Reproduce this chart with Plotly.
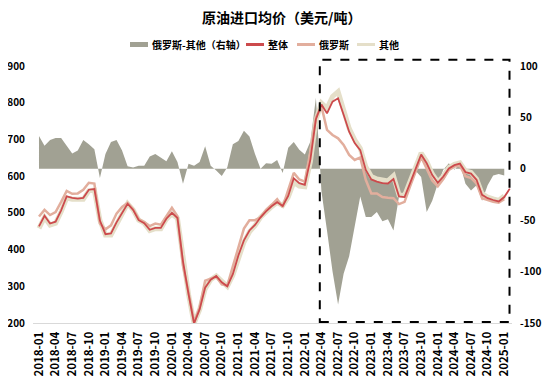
import plotly.graph_objects as go

# ---------------- data ----------------
START_YEAR, START_MONTH, N_MONTHS = 2018, 1, 86
months = []
y, m = START_YEAR, START_MONTH
for _ in range(N_MONTHS):
    months.append(f"{y}-{m:02d}")
    m += 1
    if m > 12:
        m = 1
        y += 1

tick_labels = ["2018-01", "2018-04", "2018-07", "2018-10", "2019-01", "2019-04", "2019-07", "2019-10",
               "2020-01", "2020-04", "2020-07", "2020-10", "2021-01", "2021-04", "2021-07", "2021-10",
               "2022-01", "2022-04", "2022-07", "2022-10", "2023-01", "2023-04", "2023-07", "2023-10",
               "2024-01", "2024-04", "2024-07", "2024-10", "2025-01"]

# 俄罗斯-其他（右轴）
diff = [32, 22.5, 28, 30, 30, 22.5, 15, 17.7, 28, 24, 19, -9,
        14.5, 26, 28, 17.7, 2.5, 1.3, 3, 3, 12, 14.5, 11, 7.4,
        17, 6.5, -14.5, 5, 3, 6.5, 22, 3, -1.7, -7, 1.5, 24,
        27, 37, 31.5, 14.5, 0, 5.5, 5, 8.5, -4, 20.5, 26, 18.5,
        14, 26.5, 69, -22, -60, -100, -132, -102, -85, -56, -27, -47,
        -47, -42, -51, -49, -60, -27, -24, -10, -2, -8, -42, -31,
        -14.5, -1, 5.4, -1, 5, -14.5, -21, -16, -31, -16, -6.5, -5,
        -6.5]

# 其他
other = [458, 488, 467, 472, 503, 540, 537, 536, 537, 560, 562, 480,
         440, 440, 470, 499, 525, 508, 480, 472, 452, 457, 457, 483,
         497, 485, 370, 278, 199, 236, 293, 318, 328, 312, 300, 330,
         380, 420, 448, 465, 488, 503, 517, 528, 520, 543, 583, 573,
         571, 640, 752, 799, 785, 817, 830, 780, 730, 699, 676, 626,
         599, 592, 590, 587, 601, 549, 547, 585, 625, 663, 640, 606,
         584, 600, 623, 632, 636, 614, 610, 592, 552, 543, 538, 534,
         546, None]

# 俄罗斯
russia = [490, 508, 494, 502, 530, 560, 552, 553, 563, 582, 580, 471,
          455, 466, 498, 516, 527, 510, 483, 475, 464, 471, 468, 490,
          514, 491, 356, 283, 202, 242, 315, 321, 326, 305, 302, 354,
          407, 457, 480, 480, 488, 508, 522, 537, 516, 564, 609, 591,
          585, 667, 760, 790, 726, 712, 703, 685, 658, 644, 651, 590,
          553, 553, 543, 541, 540, 524, 530, 572, 612, 652, 620, 588,
          572, 592, 617, 626, 628, 600, 595, 580, 540, 535, 530, 528,
          537, None]

# 整体
total = [463, 492, 471, 476, 507, 545, 541, 539, 541, 563, 565, 479,
         442, 444, 474, 501, 525, 508, 480, 472, 454, 459, 459, 484,
         500, 486, 368, 279, 199, 237, 296, 318, 328, 311, 300, 333,
         384, 425, 452, 467, 488, 504, 518, 529, 519, 546, 594, 581,
         576, 645, 755, 795, 771, 803, 812, 767, 721, 690, 671, 617,
         591, 585, 581, 580, 592, 545, 543, 581, 621, 659, 635, 603,
         582, 599, 621, 630, 634, 611, 607, 590, 549, 540, 535, 531,
         543, 566]

left_ticks = [200, 300, 400, 500, 600, 700, 800, 900]
right_ticks = [-150, -100, -50, 0, 50, 100]

HIGHLIGHT_START, HIGHLIGHT_END = "2022-04", "2025-02"

# ---------------- style ----------------
FONT = "Noto Sans CJK SC"
C_AREA, C_TOTAL, C_RUS, C_OTHER = "#A1A193", "#CC4A4C", "#E2AE9D", "#E5DFC9"

W, H = 542, 369
ML, MR, MT, MB = 25, 38, 58, 54
PW, PH = W - ML - MR, H - MT - MB


def px_x(x):
    return (x - ML) / PW


def px_y(y):
    return 1 + (MT - y) / PH


fig = go.Figure()

fig.add_trace(go.Scatter(
    x=months[:len(diff)], y=diff, name="俄罗斯-其他（右轴）", mode="lines",
    line=dict(color=C_AREA, width=0), fill="tozeroy", fillcolor=C_AREA, yaxis="y"))
fig.add_trace(go.Scatter(
    x=months, y=other, name="其他", mode="lines",
    line=dict(color=C_OTHER, width=5), yaxis="y2"))
fig.add_trace(go.Scatter(
    x=months, y=russia, name="俄罗斯", mode="lines",
    line=dict(color=C_RUS, width=2.5), yaxis="y2"))
fig.add_trace(go.Scatter(
    x=months, y=total, name="整体", mode="lines",
    line=dict(color=C_TOTAL, width=1.8), yaxis="y2"))

i0 = months.index(HIGHLIGHT_START) - 0.3
i1 = months.index(HIGHLIGHT_END) - 0.05
fig.add_shape(type="rect", xref="x", yref="paper", x0=i0, x1=i1, y0=0.004, y1=1.024,
              line=dict(color="black", width=2, dash="dash"), fillcolor="rgba(0,0,0,0)")

# ---- custom legend (layout positions in figure pixels) ----
legend_items = [("俄罗斯-其他（右轴）", C_AREA, "rect", 122), ("整体", C_TOTAL, "line", 238),
                ("俄罗斯", C_RUS, "line", 289), ("其他", C_OTHER, "line", 349)]
LEG_Y = 36.5
SYM_W = 18
for name, color, kind, x0 in legend_items:
    if kind == "rect":
        fig.add_shape(type="rect", xref="paper", yref="paper",
                      x0=px_x(x0), x1=px_x(x0 + SYM_W), y0=px_y(LEG_Y + 2.5), y1=px_y(LEG_Y - 2.5),
                      line=dict(width=0), fillcolor=color)
    else:
        fig.add_shape(type="line", xref="paper", yref="paper",
                      x0=px_x(x0), x1=px_x(x0 + SYM_W), y0=px_y(LEG_Y), y1=px_y(LEG_Y),
                      line=dict(color=color, width=3))
    fig.add_annotation(text=f"<b>{name}</b>", xref="paper", yref="paper",
                       x=px_x(x0 + SYM_W + 2), y=px_y(LEG_Y), xanchor="left", yanchor="middle",
                       showarrow=False, font=dict(size=10, family=FONT, color="black"))

fig.update_layout(
    width=W, height=H,
    margin=dict(l=ML, r=MR, t=MT, b=MB, autoexpand=False),
    paper_bgcolor="white", plot_bgcolor="white",
    font=dict(family=FONT, color="black", size=11),
    title=dict(text="<b>原油进口均价（美元/吨）</b>", x=0.505, xanchor="center",
               y=1 - 10 / H, yanchor="middle", font=dict(size=14, family=FONT, color="black")),
    showlegend=False,
    xaxis=dict(type="category", range=[-1.08, 85.4], tickmode="array",
               tickvals=tick_labels, ticktext=[f"<b>{t}</b>" for t in tick_labels],
               tickangle=-90, tickfont=dict(size=11.5, family=FONT), showgrid=False,
               showline=True, linecolor="#D9D9D9", linewidth=1, ticks="", zeroline=False,
               automargin=False, ticklabelstandoff=3),
    yaxis=dict(side="right", range=[-150, 100], tickvals=right_ticks,
               ticktext=[f"<b>{v}</b>" for v in right_ticks],
               showgrid=False, zeroline=False, tickfont=dict(size=10, family=FONT), ticks="",
               automargin=False, ticklabelstandoff=7),
    yaxis2=dict(side="left", overlaying="y", range=[200, 900],
                tickvals=left_ticks, ticktext=[f"<b>{v}</b>" for v in left_ticks],
                showgrid=False, zeroline=False, tickfont=dict(size=10, family=FONT), ticks="",
                automargin=False, ticklabelstandoff=7),
)

fig.write_html("out.html")
